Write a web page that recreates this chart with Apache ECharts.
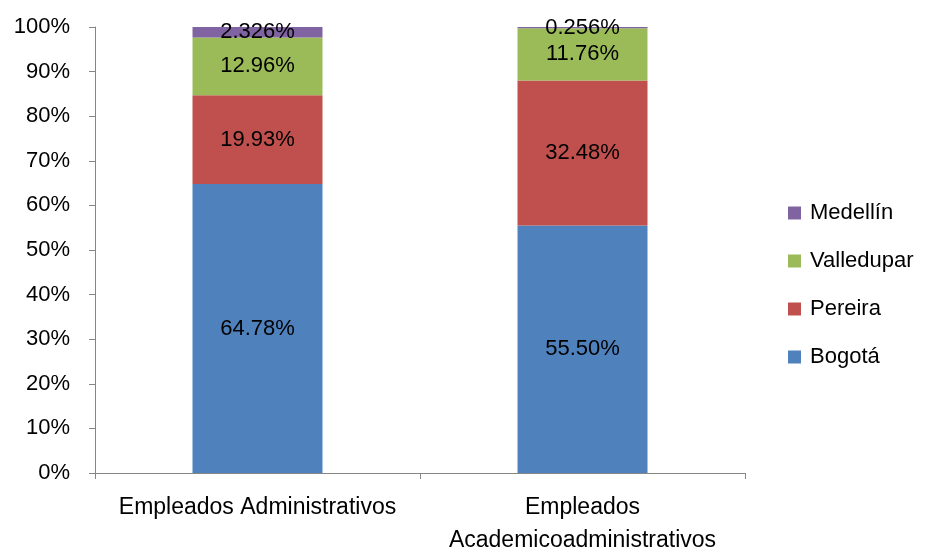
<!DOCTYPE html>
<html>
<head>
<meta charset="utf-8">
<script src="https://cdn.jsdelivr.net/npm/echarts@6/dist/echarts.min.js"></script>
<style>
  html, body { margin: 0; padding: 0; background: #fff; }
  #chart { width: 927px; height: 550px; }
</style>
</head>
<body>
<div id="chart"></div>
<script>
// categorías y porcentajes por sede
const categories = ['Empleados Administrativos', 'Empleados\nAcademicoadministrativos']
const bogota = [64.78, 55.50]
const pereira = [19.93, 32.48]
const valledupar = [12.96, 11.76]
const medellin = [2.326, 0.256]
const labelsBogota = ['64.78%', '55.50%']
const labelsPereira = ['19.93%', '32.48%']
const labelsValledupar = ['12.96%', '11.76%']
const labelsMedellin = ['2.326%', '0.256%']

const font = 'Liberation Sans'
const axisColor = '#868686'

function makeSeries(name, data, labels, color) {
  return {
    name,
    type: 'bar',
    stack: 'total',
    barWidth: '40%',
    data,
    itemStyle: { color },
    label: {
      show: true,
      position: 'inside',
      color: '#000',
      fontFamily: font,
      fontSize: 22,
      formatter: p => labels[p.dataIndex]
    }
  }
}

const chart = echarts.init(document.getElementById('chart'))
chart.setOption({
  animation: false,
  textStyle: { fontFamily: font },
  grid: { left: 95, right: 182, top: 27, bottom: 77, outerBoundsMode: 'none', containLabel: false },
  legend: {
    orient: 'vertical',
    left: 783,
    top: 197,
    itemWidth: 13,
    itemHeight: 13,
    itemGap: 26,
    icon: 'rect',
    data: ['Medellín', 'Valledupar', 'Pereira', 'Bogotá'],
    textStyle: { fontFamily: font, fontSize: 22, color: '#000', padding: [0, 0, 0, 4] }
  },
  xAxis: {
    type: 'category',
    data: categories,
    axisLine: { lineStyle: { color: axisColor } },
    axisTick: { show: true, length: 6, lineStyle: { color: axisColor } },
    axisLabel: { color: '#000', fontSize: 23, lineHeight: 33, margin: 18, interval: 0 }
  },
  yAxis: {
    type: 'value',
    min: 0,
    max: 100,
    interval: 10,
    splitLine: { show: false },
    axisLine: { show: true, lineStyle: { color: axisColor } },
    axisTick: { show: true, length: 6, lineStyle: { color: axisColor } },
    axisLabel: { color: '#000', fontSize: 22, margin: 25, formatter: '{value}%' }
  },
  series: [
    makeSeries('Bogotá', bogota, labelsBogota, '#4F81BD'),
    makeSeries('Pereira', pereira, labelsPereira, '#C0504D'),
    makeSeries('Valledupar', valledupar, labelsValledupar, '#9BBB59'),
    makeSeries('Medellín', medellin, labelsMedellin, '#8064A2')
  ]
})
</script>
</body>
</html>
